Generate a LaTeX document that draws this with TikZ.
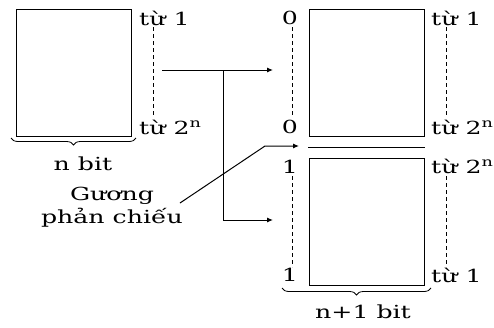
\documentclass[tikz,border=0pt]{standalone}
\usepackage{fontspec}
\setmainfont{DejaVu Serif}[FakeStretch=1.4]
\usetikzlibrary{arrows.meta,decorations.pathreplacing}
\begin{document}
\begin{tikzpicture}[x=1pt,y=-1pt,
  mem/.style={draw,line width=1.2pt},
  dline/.style={draw,line width=0.9pt,dash pattern=on 4pt off 3pt},
  lbl/.style={inner sep=0pt,font=\fontsize{18}{23}\selectfont},
  conn/.style={draw,line width=1pt},
  arr/.style={draw,line width=1pt,-{Latex[length=6pt,width=5pt]}},
  brc/.style={draw,line width=0.8pt,decorate,decoration={brace,mirror,amplitude=7pt}}]
\useasboundingbox (0,0) rectangle (494,327);
% boxes
\node[mem,minimum width=115pt,minimum height=127pt,anchor=north west,inner sep=0pt] (L) at (16,9) {};
\node[mem,minimum width=115pt,minimum height=127pt,anchor=north west,inner sep=0pt] (U) at (309,9) {};
\node[mem,minimum width=115pt,minimum height=127pt,anchor=north west,inner sep=0pt] (D) at (309,158) {};
% labels left
\node[lbl,anchor=west] (l1) at (139,18) {từ 1};
\node[lbl,anchor=west] (l2) at (139,127) {từ 2\textsuperscript{n}};
\draw[dline] (153,27) -- (153,117);
% labels right upper
\node[lbl] (u0a) at (290,18) {0};
\node[lbl] (u0b) at (290,127) {0};
\node[lbl,anchor=west] (ur1) at (431,18) {từ 1};
\node[lbl,anchor=west] (ur2) at (431,127) {từ 2\textsuperscript{n}};
\draw[dline] (292,27) -- (292,117);
\draw[dline] (446,27) -- (446,117);
% labels right lower
\node[lbl] (d1a) at (290,167) {1};
\node[lbl] (d1b) at (290,275) {1};
\node[lbl,anchor=west] (dr2) at (431,166) {từ 2\textsuperscript{n}};
\node[lbl,anchor=west] (dr1) at (431,275) {từ 1};
\draw[dline] (292,176) -- (292,267);
\draw[dline] (446,176) -- (446,267);
% mirror line
\coordinate (m1) at (308,147);
\coordinate (m2) at (425,147);
\draw[conn] (m1) -- (m2);
% braces
\draw[brc] (11,138) -- (136,138);
\draw[brc] (282,288) -- (431,288);
\node[lbl] (nb) at (83,164) {n bit};
\node[lbl] (n1b) at (363,312) {n+1 bit};
\node[lbl,align=center] (g) at (112,207) {Gương\\phản chiếu};
% connectors
\coordinate (s) at (162,70);
\coordinate (j) at (223,70);
\coordinate (j2) at (223,220);
\coordinate (e1) at (273,70);
\coordinate (e2) at (273,220);
\draw[arr] (s) -- (e1);
\draw[arr] (j) -- (j2) -- (e2);
\coordinate (g1) at (180,203);
\coordinate (g2) at (265,146);
\coordinate (g3) at (299,146);
\draw[arr] (g1) -- (g2) -- (g3);
\end{tikzpicture}
\end{document}
